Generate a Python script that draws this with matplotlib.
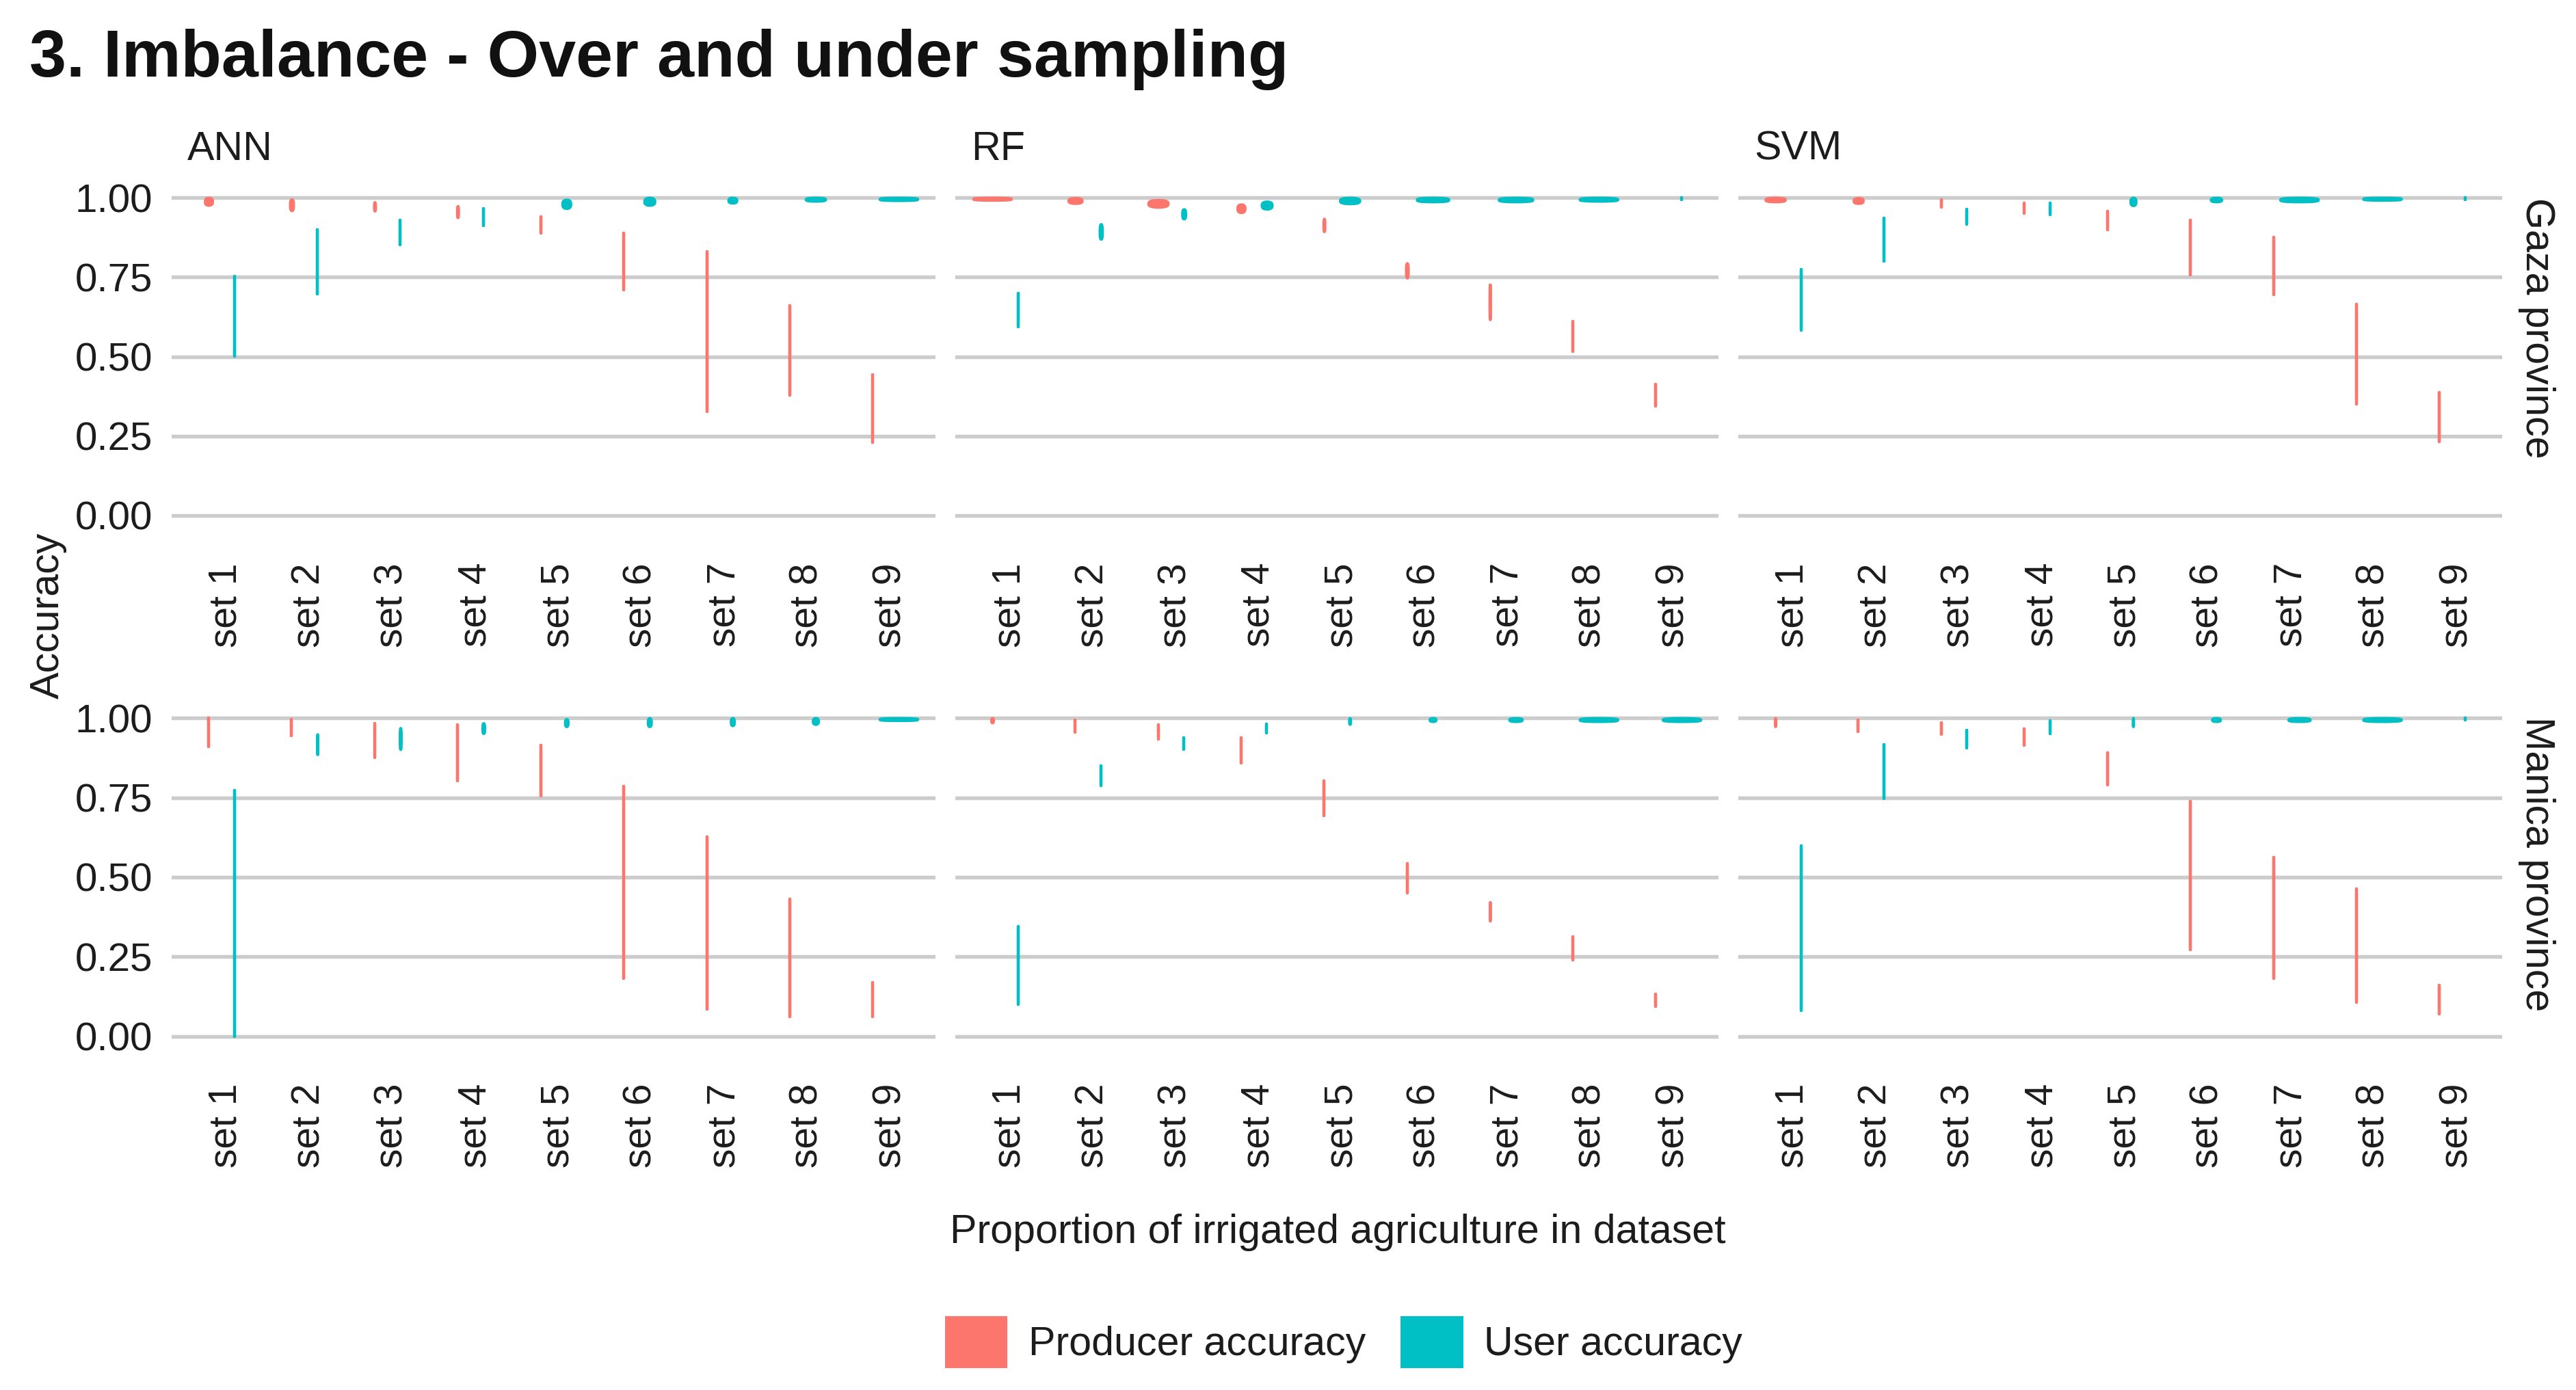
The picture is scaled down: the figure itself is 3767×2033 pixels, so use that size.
import numpy as np
import matplotlib
matplotlib.use("Agg")
import matplotlib.pyplot as plt
from matplotlib.patches import Patch
from matplotlib.transforms import ScaledTranslation

plt.rcParams['font.family'] = ['Liberation Sans', 'DejaVu Sans']

# ---------- data ----------
set_labels = ["set 1", "set 2", "set 3", "set 4", "set 5", "set 6", "set 7", "set 8", "set 9"]
y_ticks = [0.00, 0.25, 0.50, 0.75, 1.00]
models = ["ANN", "RF", "SVM"]
provinces = ["Gaza province", "Manica province"]
series_names = ["Producer accuracy", "User accuracy"]

# high / low = violin extent, peak = relative peak density of the violin
ann_gaza_prod_high = [1.000, 0.995, 0.986, 0.974, 0.941, 0.888, 0.830, 0.660, 0.442]
ann_gaza_prod_low  = [0.977, 0.960, 0.959, 0.938, 0.888, 0.709, 0.327, 0.379, 0.230]
ann_gaza_prod_peak = [0.25, 0.15, 0.10, 0.10, 0.07, 0.02, 0.00, 0.01, 0.01]
ann_gaza_user_high = [0.754, 0.900, 0.930, 0.965, 0.994, 1.000, 1.000, 1.000, 1.000]
ann_gaza_user_low  = [0.502, 0.696, 0.853, 0.912, 0.967, 0.977, 0.984, 0.990, 0.992]
ann_gaza_user_peak = [0.02, 0.02, 0.04, 0.07, 0.27, 0.32, 0.27, 0.55, 1.00]

ann_manica_prod_high = [1.000, 0.997, 0.983, 0.979, 0.914, 0.785, 0.626, 0.432, 0.170]
ann_manica_prod_low  = [0.910, 0.944, 0.875, 0.803, 0.756, 0.183, 0.086, 0.062, 0.062]
ann_manica_prod_peak = [0.07, 0.05, 0.07, 0.02, 0.03, 0.02, 0.01, 0.01, 0.02]
ann_manica_user_high = [0.773, 0.949, 0.969, 0.984, 0.997, 1.000, 1.000, 1.000, 1.000]
ann_manica_user_low  = [0.000, 0.886, 0.902, 0.952, 0.974, 0.974, 0.977, 0.981, 0.993]
ann_manica_user_peak = [0.02, 0.08, 0.10, 0.12, 0.14, 0.15, 0.15, 0.20, 1.00]

rf_gaza_prod_high = [1.000, 0.999, 0.993, 0.979, 0.934, 0.794, 0.727, 0.610, 0.413]
rf_gaza_prod_low  = [0.993, 0.983, 0.971, 0.954, 0.894, 0.748, 0.617, 0.517, 0.343]
rf_gaza_prod_peak = [1.00, 0.40, 0.55, 0.25, 0.10, 0.12, 0.09, 0.07, 0.07]
rf_gaza_user_high = [0.700, 0.917, 0.964, 0.988, 1.000, 1.000, 1.000, 1.000, 1.000]
rf_gaza_user_low  = [0.594, 0.870, 0.934, 0.965, 0.982, 0.988, 0.988, 0.990, 0.995]
rf_gaza_user_peak = [0.06, 0.13, 0.15, 0.32, 0.55, 0.85, 0.90, 1.00, 0.05]

rf_manica_prod_high = [1.000, 0.994, 0.980, 0.938, 0.802, 0.544, 0.422, 0.314, 0.132]
rf_manica_prod_low  = [0.986, 0.955, 0.933, 0.858, 0.693, 0.451, 0.363, 0.241, 0.093]
rf_manica_prod_peak = [0.12, 0.04, 0.05, 0.03, 0.05, 0.04, 0.08, 0.05, 0.06]
rf_manica_user_high = [0.345, 0.851, 0.938, 0.981, 1.000, 1.000, 1.000, 1.000, 1.000]
rf_manica_user_low  = [0.101, 0.788, 0.902, 0.953, 0.981, 0.990, 0.990, 0.990, 0.990]
rf_manica_user_peak = [0.05, 0.07, 0.07, 0.06, 0.10, 0.22, 0.38, 1.00, 1.00]

svm_gaza_prod_high = [1.000, 0.999, 0.994, 0.983, 0.958, 0.929, 0.876, 0.664, 0.387]
svm_gaza_prod_low  = [0.988, 0.983, 0.970, 0.952, 0.900, 0.758, 0.695, 0.350, 0.232]
svm_gaza_prod_peak = [0.55, 0.30, 0.07, 0.06, 0.05, 0.02, 0.02, 0.01, 0.02]
svm_gaza_user_high = [0.774, 0.935, 0.964, 0.983, 1.000, 1.000, 1.000, 1.000, 1.000]
svm_gaza_user_low  = [0.582, 0.800, 0.917, 0.947, 0.976, 0.988, 0.988, 0.993, 0.995]
svm_gaza_user_peak = [0.03, 0.06, 0.05, 0.05, 0.20, 0.33, 1.00, 1.00, 0.03]

svm_manica_prod_high = [1.000, 0.994, 0.985, 0.967, 0.892, 0.738, 0.562, 0.463, 0.161]
svm_manica_prod_low  = [0.974, 0.958, 0.950, 0.914, 0.790, 0.273, 0.181, 0.106, 0.070]
svm_manica_prod_peak = [0.08, 0.05, 0.05, 0.04, 0.04, 0.02, 0.01, 0.02, 0.03]
svm_manica_user_high = [0.598, 0.917, 0.962, 0.991, 1.000, 1.000, 1.000, 1.000, 1.000]
svm_manica_user_low  = [0.080, 0.747, 0.907, 0.951, 0.974, 0.990, 0.990, 0.990, 0.995]
svm_manica_user_peak = [0.03, 0.05, 0.05, 0.06, 0.08, 0.27, 0.60, 1.00, 0.03]

panels = {
    ("ANN", 0): ((ann_gaza_prod_low, ann_gaza_prod_high, ann_gaza_prod_peak),
                 (ann_gaza_user_low, ann_gaza_user_high, ann_gaza_user_peak)),
    ("ANN", 1): ((ann_manica_prod_low, ann_manica_prod_high, ann_manica_prod_peak),
                 (ann_manica_user_low, ann_manica_user_high, ann_manica_user_peak)),
    ("RF", 0): ((rf_gaza_prod_low, rf_gaza_prod_high, rf_gaza_prod_peak),
                (rf_gaza_user_low, rf_gaza_user_high, rf_gaza_user_peak)),
    ("RF", 1): ((rf_manica_prod_low, rf_manica_prod_high, rf_manica_prod_peak),
                (rf_manica_user_low, rf_manica_user_high, rf_manica_user_peak)),
    ("SVM", 0): ((svm_gaza_prod_low, svm_gaza_prod_high, svm_gaza_prod_peak),
                 (svm_gaza_user_low, svm_gaza_user_high, svm_gaza_user_peak)),
    ("SVM", 1): ((svm_manica_prod_low, svm_manica_prod_high, svm_manica_prod_peak),
                 (svm_manica_user_low, svm_manica_user_high, svm_manica_user_peak)),
}

# ---------- layout / style ----------
W, H, DPI = 3767, 2033, 300
px = 72 / DPI
FS = 14.2
FS_X = 13.7
FS_Y = 14
INK = "#1c1c1c"
COLORS = ["#FD766E", "#00C0C6"]
GRID = "#CCCCCC"
DODGE = 0.155
WIDTH_SCALE = 0.49
EDGE_PX = 4.3
EDGE_CAT = EDGE_PX / 121.4
col_px = [(251, 1368), (1397, 2513), (2542, 3659)]
row_px = [(266, 777), (1027, 1539)]
strip_y = [480, 1264]

fig = plt.figure(figsize=(W / DPI, H / DPI), dpi=DPI, facecolor="white")
label_shift = ScaledTranslation(7 / DPI, 0, fig.dpi_scale_trans)


def spindle(ax, centre, low, high, peak, color):
    y = np.linspace(low, high, 41)
    t = np.linspace(-1, 1, 41)
    body = max(peak * WIDTH_SCALE - EDGE_CAT, 0)
    half = 0.5 * body * np.sqrt(np.clip(1 - np.abs(t) ** 3, 0, 1))
    ax.fill_betweenx(y, centre - half, centre + half, facecolor=color, edgecolor=color,
                     linewidth=EDGE_PX * px, joinstyle="round", zorder=3, clip_on=False)


for c, model in enumerate(models):
    for r, province in enumerate(provinces):
        x0, x1 = col_px[c]
        top, bottom = row_px[r]
        ax = fig.add_axes([x0 / W, 1 - bottom / H, (x1 - x0) / W, (bottom - top) / H])
        ax.set_xlim(0.4, 9.6)
        ax.set_ylim(-0.05, 1.05)
        for s in ax.spines.values():
            s.set_visible(False)
        ax.set_yticks(y_ticks)
        ax.set_xticks(np.arange(1, 10))
        ax.set_xticklabels(set_labels, rotation=90, ha="center", va="top", fontsize=FS_X, color=INK)
        if c == 0:
            ax.set_yticklabels([f"{v:.2f}" for v in y_ticks], fontsize=FS_Y, color=INK)
        else:
            ax.set_yticklabels([])
        ax.tick_params(axis="both", length=0)
        ax.tick_params(axis="x", pad=46 * px)
        ax.tick_params(axis="y", pad=28 * px)
        for lab in ax.get_xticklabels():
            lab.set_transform(lab.get_transform() + label_shift)
        ax.grid(axis="y", color=GRID, linewidth=5.5 * px, zorder=1)
        ax.set_axisbelow(True)
        for k, (low, high, peak) in enumerate(panels[(model, r)]):
            off = -DODGE if k == 0 else DODGE
            for i in range(len(set_labels)):
                spindle(ax, i + 1 + off, low[i], high[i], peak[i], COLORS[k])
        if r == 0:
            fig.text((x0 + 23) / W, 1 - 218 / H, model, fontsize=FS, color=INK, ha="left", va="center")
        if c == 2:
            fig.text(3709 / W, 1 - strip_y[r] / H, province, fontsize=FS, color=INK,
                     rotation=270, ha="center", va="center")

fig.text(43 / W, 1 - 87 / H, "3. Imbalance - Over and under sampling", fontsize=23.3,
         fontweight="bold", color="#111111", ha="left", va="center")
fig.text(70 / W, 1 - 900 / H, "Accuracy", fontsize=FS, color=INK, rotation=90, ha="center", va="center")
fig.text(1956 / W, 1 - 1802 / H, "Proportion of irrigated agriculture in dataset", fontsize=FS, color=INK,
         ha="center", va="center")

handles = [Patch(facecolor=COLORS[0], edgecolor="none", label=series_names[0]),
           Patch(facecolor=COLORS[1], edgecolor="none", label=series_names[1])]
leg = fig.legend(handles=handles, loc="center", bbox_to_anchor=(1965 / W, 1 - 1963 / H), ncol=2,
                 frameon=False, fontsize=FS, handlelength=1.55, handleheight=1.58, handletextpad=0.52,
                 columnspacing=0.85, borderpad=0, labelcolor=INK)

fig.savefig("out.png", dpi=DPI, facecolor="white")
